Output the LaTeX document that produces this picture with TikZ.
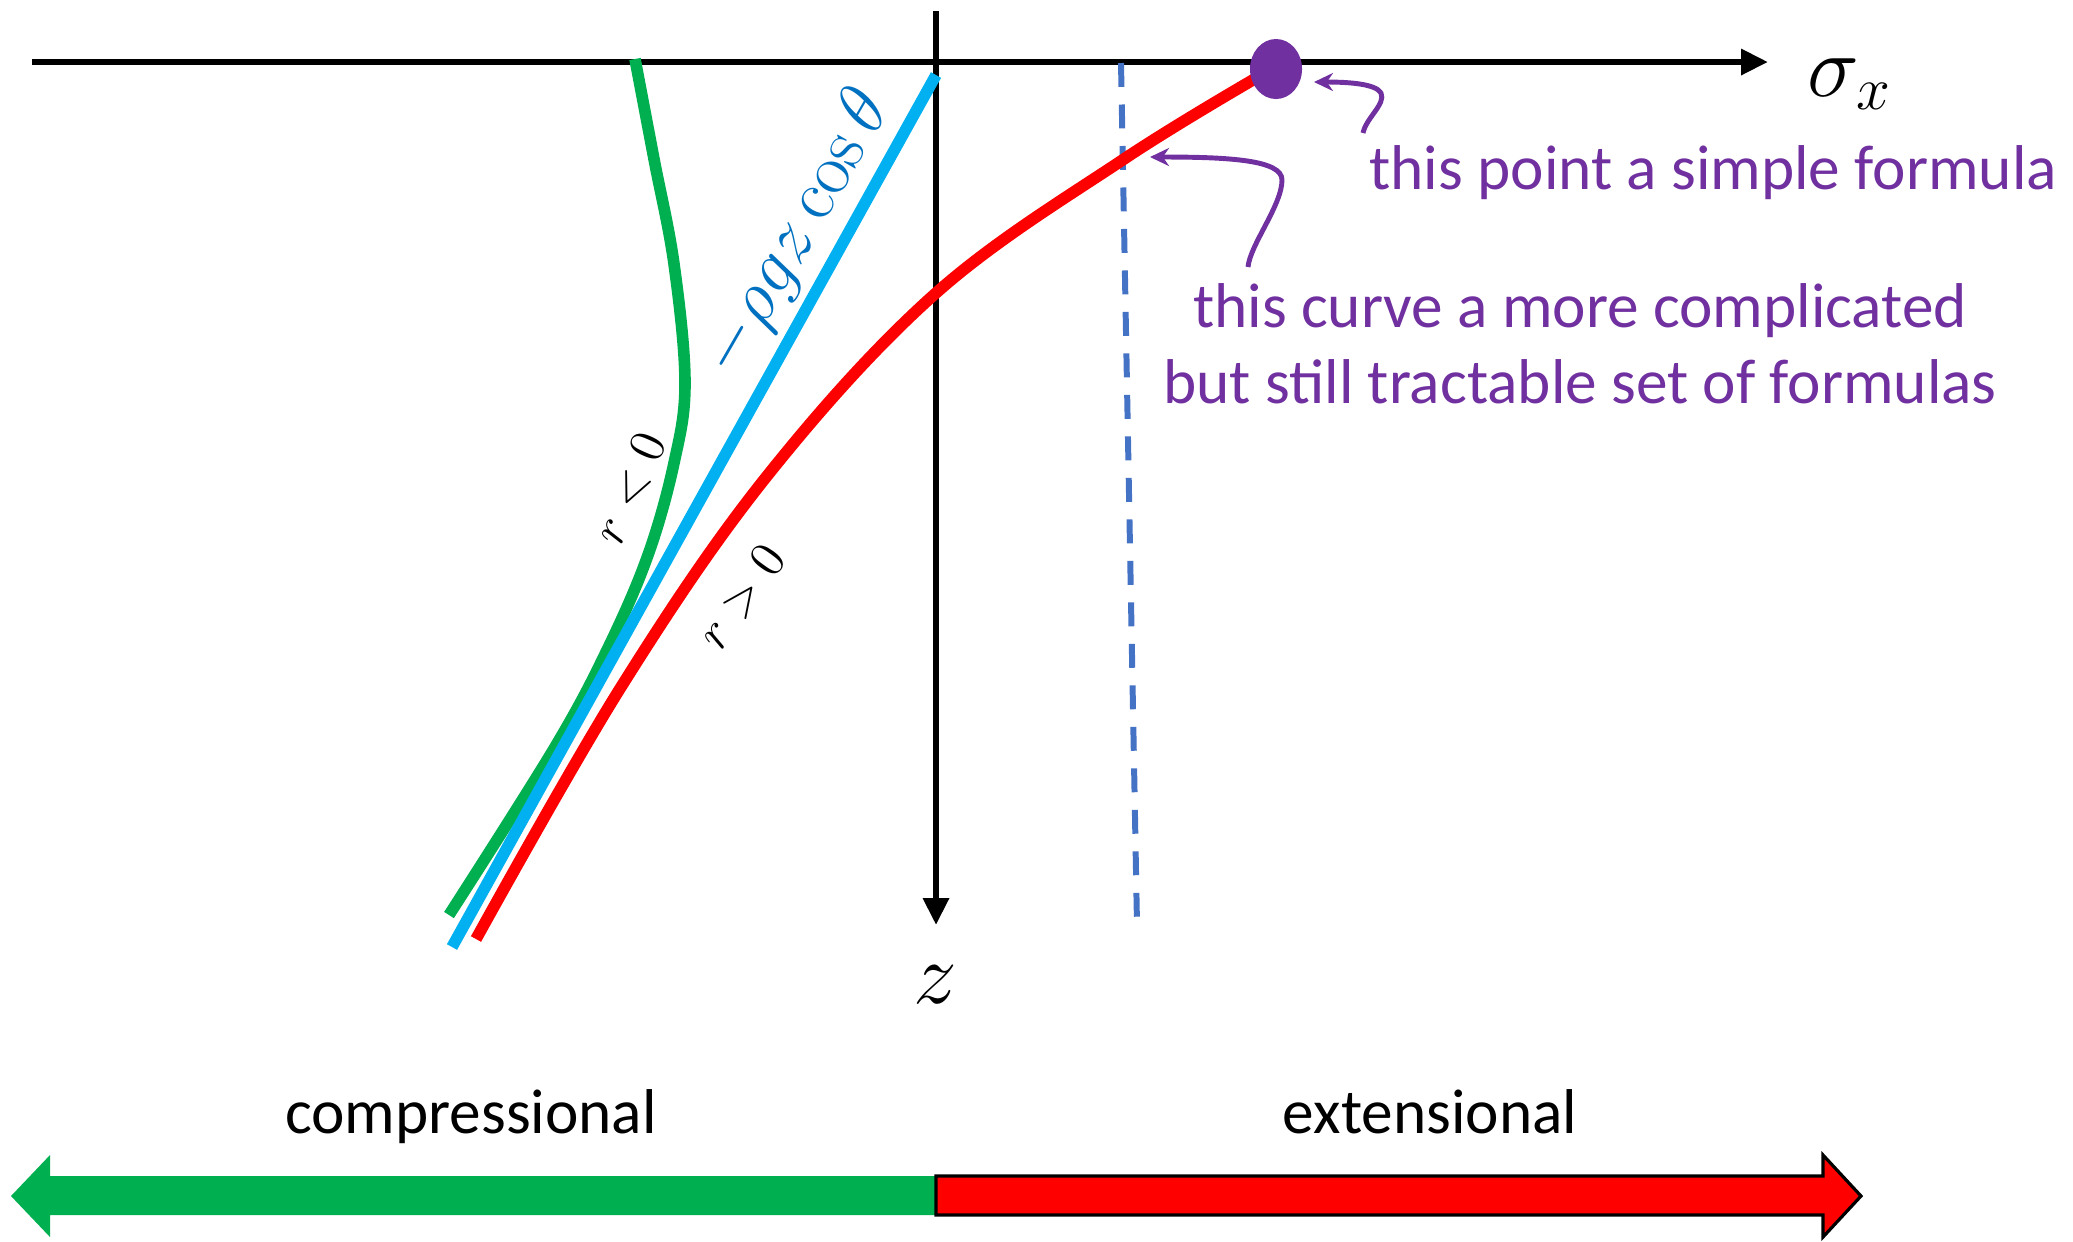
\documentclass[tikz,border=0pt]{standalone}
\usepackage[no-math]{fontspec}
\setmainfont{Carlito}
\usetikzlibrary{arrows.meta, positioning, calc, shapes.geometric}
\definecolor{curvegreen}{HTML}{00B050}
\definecolor{curvered}{HTML}{FF0000}
\definecolor{lineblue}{HTML}{00B0F0}
\definecolor{labelblue}{HTML}{0070C0}
\definecolor{dashblue}{HTML}{4472C4}
\definecolor{notepurple}{HTML}{7030A0}

\begin{document}
\begin{tikzpicture}[x=0.01cm, y=-0.01cm,
  axis/.style={line width=1.8pt, -{Triangle[length=0.27cm, width=0.25cm]}},
  curve/.style={line width=3.3pt, line cap=butt},
  note/.style={text=notepurple, font=\fontsize{18}{21.6}\selectfont},
  notearrow/.style={notepurple, line width=1.4pt,
                    -{Stealth[length=0.19cm, width=0.18cm]}},
  sidelabel/.style={font=\fontsize{18}{21.6}\selectfont}]
  \useasboundingbox (0,0) rectangle (2073,1241);

  % axes
  \coordinate (xstart) at (32,62);
  \coordinate (xend) at (1768,62);
  \coordinate (zstart) at (936,11);
  \coordinate (zend) at (936,925);
  \draw[axis] (xstart) -- (xend);
  \draw[axis] (zstart) -- (zend);
  \node (sigx) at (1850,84) {\fontsize{25}{30}\selectfont $\sigma_x$};
  \node (zlab) at (935,985) {\fontsize{23}{28}\selectfont $z$};

  % reference line and the two curves
  \draw[dashblue, line width=1.7pt, dash pattern=on 6.8pt off 5pt]
    (1121,63) -- (1137,925);
  \draw[curve, curvegreen] plot[smooth, tension=0.6] coordinates
    {(635,59) (654,159) (674,264) (685,383) (674,463) (648,555)
     (608,648) (555,747) (449,915)};
  \draw[curve, lineblue] (936,75) -- (452,947);
  \draw[curve, curvered] plot[smooth, tension=0.6] coordinates
    {(1270,70) (1124,159) (936,293) (767,476) (621,687) (476,939)};
  \node[ellipse, fill=notepurple, minimum width=0.52cm,
        minimum height=0.6cm, inner sep=0pt] (pt) at (1276,69) {};

  % labels along the lines
  \node[rotate=60, text=labelblue] (rhog) at (797,234)
    {\fontsize{20}{24}\selectfont $-\rho g z\cos\theta$};
  \node[rotate=66] (rneg) at (630,488) {\fontsize{15}{18}\selectfont $r<0$};
  \node[rotate=54] (rpos) at (742,597) {\fontsize{15}{18}\selectfont $r>0$};

  % notes
  \node[note, anchor=base west] (pointnote) at (1357,189)
    {this point a simple formula};
  \node[note, align=center] (curvenote) at (1580,344)
    {this curve a more complicated\\but still tractable set of formulas};
  \coordinate (pointfoot) at (1363,133);
  \coordinate (curvefoot) at (1248,267);
  \draw[notearrow] (pointfoot) .. controls (1366,118) and (1386,104) .. (1381,93)
    .. controls (1376,84) and (1350,82) .. (1314,82);
  \draw[notearrow] (curvefoot) .. controls (1250,245) and (1282,205) .. (1282,180)
    .. controls (1282,160) and (1230,157) .. (1150,157);

  % bottom arrows
  \fill[curvegreen] (11,1196) -- (50,1155) -- (50,1176) -- (936,1176)
    -- (936,1215) -- (50,1215) -- (50,1237) -- cycle;
  \filldraw[fill=curvered, draw=black, line width=0.9pt]
    (936,1176) -- (1823,1176) -- (1823,1155) -- (1861,1196)
    -- (1823,1237) -- (1823,1215) -- (936,1215) -- cycle;
  \node[sidelabel, anchor=base] (comp) at (471,1133) {compressional};
  \node[sidelabel, anchor=base] (ext) at (1430,1133) {extensional};
\end{tikzpicture}
\end{document}
